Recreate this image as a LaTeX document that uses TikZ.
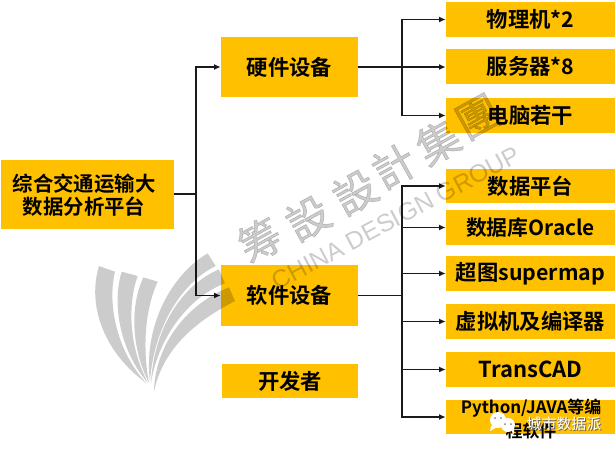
\documentclass[tikz,border=0pt]{standalone}
\usepackage{fontspec}
\setmainfont{Noto Sans CJK SC}[BoldFont={Noto Sans CJK SC Bold}]
\newfontfamily\wmlatin{Liberation Sans}
\newfontfamily\wmcjk[FakeBold=1.2]{Noto Sans CJK SC}
\usetikzlibrary{arrows.meta}
\definecolor{boxy}{HTML}{FFC000}
\definecolor{ink}{HTML}{1A1A1A}
\tikzset{
  box/.style={fill=boxy,inner sep=0pt,font=\bfseries\fontsize{16}{21}\selectfont,text=black,align=center},
  link/.style={draw=ink,line width=1pt},
  arr/.style={link,-{Latex[length=5pt,width=4.5pt]}},
  blade/.style={fill=black,opacity=.2},
  wm/.style={text=black,opacity=.2,font=\wmcjk\fontsize{32}{32}\selectfont,inner sep=0pt,rotate=29},
  wmen/.style={text=black,opacity=.2,inner sep=0pt,rotate=28},
}
\newcommand{\bx}[6]{\node[box,minimum width=#4*.75pt-#2*.75pt,minimum height=#5*.75pt-#3*.75pt] (#1) at ({(#2+#4)/2},{(#3+#5)/2}) {#6};}
\begin{document}
\begin{tikzpicture}[x=.75pt,y=-.75pt]
\useasboundingbox (0,0) rectangle (616,451);
\bx{root}{1}{160}{174}{229}{}
\node[box,fill=none,font=\bfseries\fontsize{15.3}{17.5}\selectfont] (rt) at (84,195) {综合交通运输大\\数据分析平台};
\bx{hw}{221}{37}{358}{97}{硬件设备}
\bx{sw}{221}{265}{358}{326}{软件设备}
\bx{dev}{222}{364}{358}{398}{开发者}
\bx{a}{446}{2}{615}{37}{物理机*2}
\bx{b}{446}{49}{615}{84}{服务器*8}
\bx{c}{446}{98}{615}{133}{电脑若干}
\bx{d}{446}{169}{615}{203}{数据平台}
\bx{e}{446}{210}{615}{245}{\fontsize{15.6}{21}\selectfont 数据库Oracle}
\bx{f}{446}{256}{615}{291}{超图supermap}
\bx{g}{446}{304}{615}{339}{虚拟机及编译器}
\bx{h}{446}{352}{615}{387}{\fontsize{16.5}{21}\selectfont TransCAD}
\bx{i}{446}{400}{615}{434}{}
\node[box,fill=none,font=\bfseries\fontsize{12.7}{18}\selectfont] (it) at (531,419) {Python/JAVA等编\\程软件};
% connectors
\coordinate (s0) at (196,194);
\coordinate (s1) at (402,67);
\coordinate (s2) at (402,296);
\draw[link] (root.east |- s0) -- (s0);
\draw[arr] (s0) |- (hw.west);
\draw[arr] (s0) |- (sw.west);
\draw[arr] (hw.east) -- (hw.east -| b.west);
\draw[arr] (s1) |- (a.west);
\draw[arr] (s1) |- (c.west);
\draw[link] (sw.east) -- (sw.east -| s2);
\foreach \t in {d,e,f,g,h,i}{\draw[arr] (s2) |- (\t.west);}
% watermark fan
\begin{scope}[shift={(85,240)},x=.25pt,y=-.25pt]
\fill[blade] (42,78) -- (90,95) .. controls (65,200) and (100,340) .. (185,430) .. controls (60,340) and (5,200) .. cycle;
\fill[blade] (110,95) -- (158,108) .. controls (125,200) and (135,330) .. (190,430) .. controls (110,340) and (78,200) .. cycle;
\fill[blade] (175,112) -- (218,125) .. controls (175,220) and (175,340) .. (192,428) .. controls (145,340) and (130,210) .. cycle;
\fill[blade] (368,40) -- (392,78) .. controls (285,130) and (205,270) .. (195,425) .. controls (175,270) and (250,110) .. cycle;
\fill[blade] (402,88) -- (420,130) .. controls (300,175) and (215,310) .. (198,430) .. controls (205,280) and (280,140) .. cycle;
\fill[blade] (432,142) -- (450,183) .. controls (340,240) and (235,320) .. (207,455) .. controls (210,310) and (310,190) .. cycle;
\end{scope}
\node[wm] (w1) at (260,240) {筹};
\node[wm] (w2) at (308,218) {設};
\node[wm] (w3) at (355,192) {設};
\node[wm] (w4) at (394,166) {計};
\node[wm] (w5) at (438,142) {集};
\node[wm] (w6) at (478,117) {團};
\node[wmen] (w7) at (396,218) {\wmlatin\fontsize{18.6}{19}\selectfont CHINA DESIGN GROUP};
% WeChat mark
\fill[white] (498,420) circle (8);
\fill[white] (491,426) -- (490,431) -- (497,427) -- cycle;
\fill[white] (508,425) circle (7);
\fill[white] (511,430) -- (514,435) -- (514,428) -- cycle;
\fill[ink!55] (495,418) circle (1) (501,418) circle (1) (505,424) circle (1) (511,424) circle (1);
\node[text=black!60,inner sep=0pt,font=\fontsize{11.2}{11}\selectfont] (wx0) at (565,424.6) {城市数据派};
\node[text=white,inner sep=0pt,font=\fontsize{11.2}{11}\selectfont] (wx) at (564,424) {城市数据派};
\end{tikzpicture}
\end{document}
